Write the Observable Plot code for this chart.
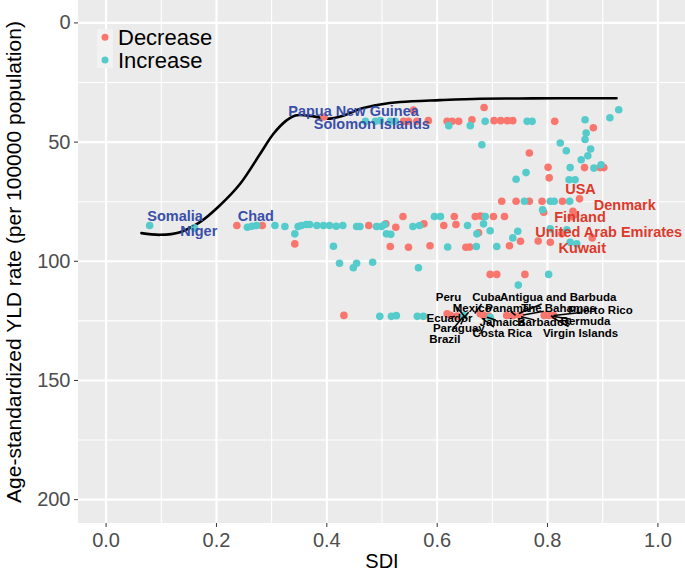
<!DOCTYPE html>
<html><head><meta charset="utf-8">
<script src="https://cdn.jsdelivr.net/npm/d3@7"></script>
<script src="https://cdn.jsdelivr.net/npm/@observablehq/plot@0.6"></script>
<style>
html,body{margin:0;padding:0;background:#fff;}
#chart{width:685px;height:575px;position:relative;overflow:hidden}
</style></head><body><div id="chart"></div>
<script>
// ---- data ----
const decreaseSDI = [0.237,0.283,0.342,0.395,0.476,0.507,0.525,0.538,0.515,0.548,0.576,0.587,0.612,0.631,0.634,0.652,0.659,0.669,0.675,0.678,0.684,0.702,0.722,0.717,0.743,0.767,0.790,0.827,0.858,0.793,0.846,0.850,0.843,0.826,0.751,0.783,0.805,0.881,0.731,0.696,0.708,0.759,
  0.539,0.548,0.557,0.563,0.584,0.618,0.627,0.639,0.663,0.685,0.703,0.715,0.727,0.737,0.813,0.883,0.767,0.801,0.867,0.895,0.902,0.803,
  0.431,0.618,0.624,0.636,0.678,0.684,0.693,0.726,0.738,0.750,0.794,0.802,0.811];
const decreaseRate = [85,85,92.7,39.5,85,84.3,85.7,81.2,93.8,94.1,84.3,93.5,85,81.2,84.6,94.1,94,81.2,88,81,81.2,81.2,81.2,74.8,74.8,74.8,74.8,74.8,73.8,79.4,79,80.5,81.3,88.5,91.6,91.5,92,90.2,93.5,105.5,105.5,105.5,
  41.3,41.3,36.6,41.3,41.0,41.3,41.3,41.3,40.6,35.5,41.0,41.0,41.0,41.0,41.3,44,54.6,60.6,60.7,60.7,60.7,65,
  122.7,122,122.7,123,122,122.7,123,122.7,122.7,122.7,122.7,122.7,122.7];
const increaseSDI = [0.079,0.160,0.256,0.264,0.273,0.306,0.324,0.342,0.348,0.354,0.363,0.369,0.382,0.394,0.405,0.417,0.429,0.412,0.423,0.448,0.454,0.483,0.454,0.460,0.490,0.499,0.505,0.508,0.516,0.556,0.568,0.595,0.606,0.619,0.655,0.671,0.672,0.684,0.687,0.696,0.708,0.566,0.737,0.746,0.758,0.791,0.805,0.812,0.840,0.805,0.835,0.841,0.853,0.747,0.802,
  0.470,0.488,0.497,0.515,0.524,0.621,0.660,0.687,0.763,0.772,0.868,0.913,0.929,0.681,0.870,0.868,0.823,0.834,0.878,0.873,0.861,0.841,0.884,0.897,0.761,0.743,0.839,0.850,
  0.496,0.517,0.526,0.564,0.575,0.648,0.696];
const increaseRate = [85,86,85.7,85.3,85,85,85.4,88.5,85.4,85,84.6,84.6,85,85,85,85.3,85,93.7,100.8,102.7,100.8,100.4,85.4,85.4,85.4,85.4,84.6,88.5,88.7,85.4,85,81.2,81.2,94,85,93.8,88.5,84.3,81.2,87.2,93.8,102.7,90.2,87.4,74.8,78.4,74.8,74.8,74.8,86.4,86.8,92,92.7,110,105.5,
  41.3,41.3,41.0,41.3,41.3,43.1,43.1,41.3,41.3,41.3,40.6,39.8,36.4,51.1,46.2,48.9,50.4,53.6,52.9,55.7,57.4,60.7,60.9,59.5,62.8,65.6,65.8,65.8,
  123.1,123.1,122.8,123.1,123.1,122.7,123.5];

const curveSDI  = [0.064,0.098,0.134,0.170,0.206,0.243,0.279,0.303,0.327,0.343,0.376,0.400,0.431,0.461,0.497,0.533,0.605,0.678,0.750,0.823,0.925];
const curveRate = [88.2,88.9,87.8,83.6,76.6,67.5,55.0,46.6,40.9,38.8,39.2,40.2,38.8,36.0,34.2,33.2,32.4,31.8,31.7,31.6,31.6];

const blueLabels = ["Papua New Guinea","Solomon Islands","Somalia","Niger","Chad"];
const blueX = [0.4484,0.4815,0.1249,0.168,0.2713];
const blueY = [37.0,42.6,81.2,87.3,81.2];

const redLabels = ["USA","Denmark","Finland","United Arab Emirates","Kuwait"];
const redX = [0.8597,0.940,0.8588,0.9108,0.8628];
const redY = [70.0,76.5,81.7,87.7,94.7];

const blackLabels = ["Peru","Cuba","Antigua and Barbuda","Mexico","Panama","The Bahamas","Puerto Rico","Ecuador","Jamaica","Barbados","Bermuda","Paraguay","Costa Rica","Virgin Islands","Brazil"];
const blackX = [0.6205,0.6894,0.8193,0.6635,0.7269,0.8199,0.896,0.6223,0.7178,0.7932,0.8688,0.6392,0.7178,0.8597,0.6138];
const blackY = [115.3,115.0,115.0,119.6,119.8,119.8,120.6,123.8,125.5,125.5,125.2,128.2,130.3,130.3,132.7];
const targetX = [0.654,0.668,0.748,0.648,0.742,0.756,0.811,0.632,0.690,0.752,0.806,0.648,0.682,0.808,0.645];
const targetY = [124.3,121.9,121.9,123.8,122.7,122.5,122.7,123.0,123.5,123.3,123.0,124.0,124.0,123.4,123.8];

const categories = ["Decrease","Increase"];
const colors = ["#F8766D","#56CBCB"];
const xTicks = [0,0.2,0.4,0.6,0.8,1.0];
const xMinor = [0.1,0.3,0.5,0.7,0.9];
const yTicks = [0,50,100,150,200];
const yMinor = [25,75,125,175];
const xTitle = "SDI";
const yTitle = "Age-standardized YLD rate (per 100000 population)";

// ---- tables ----
const points = [
  ...decreaseSDI.map((x,i)=>({sdi:x, rate:decreaseRate[i], change:"Decrease"})),
  ...increaseSDI.map((x,i)=>({sdi:x, rate:increaseRate[i], change:"Increase"}))
];
const curve = curveSDI.map((x,i)=>({sdi:x, rate:curveRate[i]}));
const blue = blueLabels.map((t,i)=>({t, x:blueX[i], y:blueY[i]}));
const red = redLabels.map((t,i)=>({t, x:redX[i], y:redY[i]}));
const F = 0.58;
const black = blackLabels.map((t,i)=>({t, x:blackX[i], y:blackY[i], tx:targetX[i], ty:targetY[i],
  ex: targetX[i] + F*(blackX[i]-targetX[i]), ey: targetY[i] + F*(blackY[i]-targetY[i])}));

const FONT = "'Liberation Sans', Arial, Helvetica, sans-serif";

const chart = Plot.plot({
  width: 685, height: 575,
  marginLeft: 78, marginRight: 0, marginTop: 0, marginBottom: 52,
  style: {fontFamily: FONT, background: "#fff", overflow: "visible"},
  x: {domain: [-0.05, 1.05]},
  y: {domain: [-9.4, 210], reverse: true},
  color: {domain: categories, range: colors},
  marks: [
    Plot.ruleX(xMinor, {stroke: "#fff", strokeWidth: 1.1}),
    Plot.ruleY(yMinor, {stroke: "#fff", strokeWidth: 1.1}),
    Plot.ruleX(xTicks, {stroke: "#fff", strokeWidth: 2.1}),
    Plot.ruleY(yTicks, {stroke: "#fff", strokeWidth: 2.1}),
    Plot.axisX(xTicks, {tickFormat: d3.format(".1f"), tickSize: 4, tickPadding: 5, fontSize: 20, fill: "#4D4D4D", stroke: "#333", label: null}),
    Plot.axisY(yTicks, {tickSize: 4, tickPadding: 4, fontSize: 20, fill: "#4D4D4D", stroke: "#333", label: null}),
    Plot.text([xTitle], {frameAnchor: "bottom", dy: 44, fontSize: 20, fill: "#000"}),
    Plot.text([yTitle], {frameAnchor: "left", dx: -64, rotate: -90, textAnchor: "middle", fontSize: 21, fill: "#000"}),
    Plot.line(curve, {x: "sdi", y: "rate", stroke: "#000", strokeWidth: 2.6, curve: "catmull-rom"}),
    Plot.dot(points, {x: "sdi", y: "rate", fill: "change", r: 3.8, stroke: null}),
    Plot.text(blue, {x: "x", y: "y", text: "t", fill: "#3A4FA8", fontSize: 14.5, fontWeight: "bold"}),
    Plot.text(red, {x: "x", y: "y", text: "t", fill: "#DD3A2C", fontSize: 14.5, fontWeight: "bold"}),
    Plot.link(black, {x1: "tx", y1: "ty", x2: "ex", y2: "ey", stroke: "#000", strokeWidth: 1.5}),
    Plot.text(black, {x: "x", y: "y", text: "t", fill: "#000", fontSize: 11.5, fontWeight: "bold"})
  ]
});
document.getElementById("chart").appendChild(chart);

// ---- panel background (behind all marks) ----
const svg = d3.select(chart);
const xr = chart.scale("x").range, yr = chart.scale("y").range;
const firstMark = chart.querySelector("g[aria-label]");
const bg = document.createElementNS("http://www.w3.org/2000/svg", "rect");
bg.setAttribute("x", Math.min(...xr)); bg.setAttribute("width", Math.abs(xr[1]-xr[0]));
bg.setAttribute("y", Math.min(...yr)); bg.setAttribute("height", Math.abs(yr[1]-yr[0]));
bg.setAttribute("fill", "#EBEBEB");
chart.insertBefore(bg, firstMark);

// ---- legend (inside panel, top-left) ----
const lg = svg.append("g").attr("transform", "translate(97,29)").attr("text-anchor", "start");
categories.forEach((c, i) => {
  const row = lg.append("g").attr("transform", `translate(0,${i*22.7})`);
  row.append("rect").attr("width", 16).attr("height", 19.5).attr("y", i === 0 ? 0 : -3.2).attr("fill", "#F2F2F2");
  row.append("circle").attr("cx", 8).attr("cy", 8.3).attr("r", 3.5).attr("fill", colors[i]);
  row.append("text").attr("x", 21).attr("y", 15.8).attr("font-size", 22).attr("font-family", FONT).attr("fill", "#000").text(c);
});
</script></body></html>
